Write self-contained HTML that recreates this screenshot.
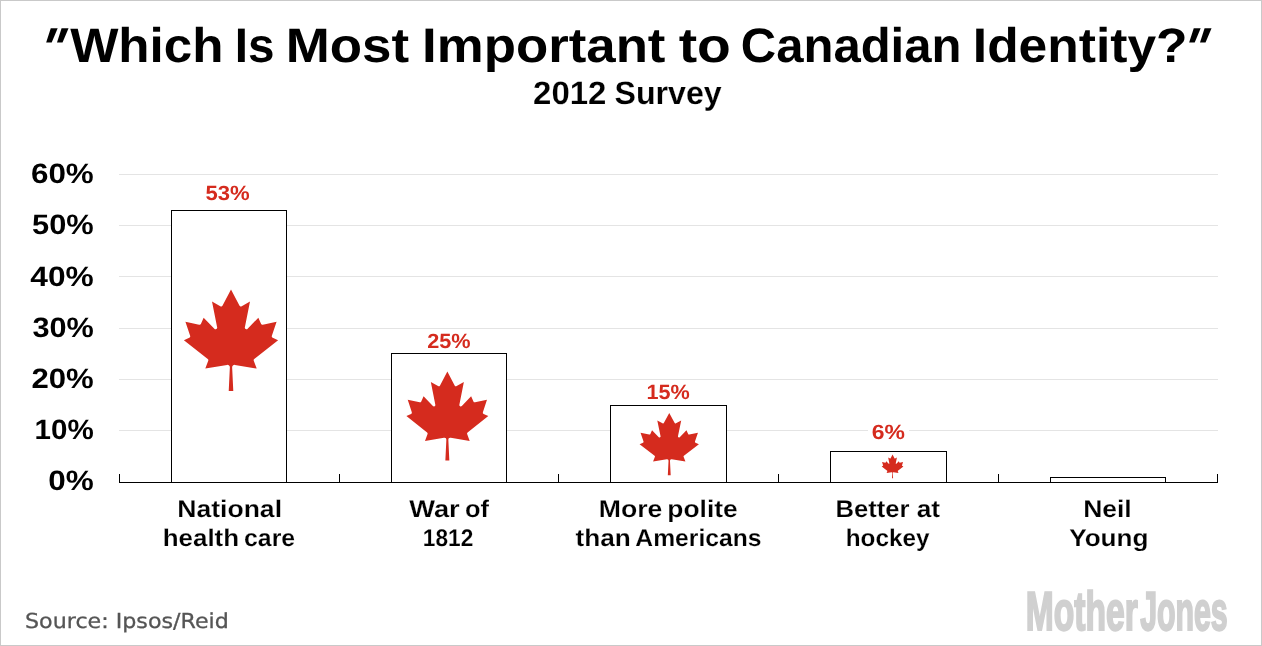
<!DOCTYPE html>
<html lang="en"><head><meta charset="utf-8"><title>Which Is Most Important to Canadian Identity?</title>
<style>
html,body{margin:0;padding:0;background:#fff;}
body{width:1262px;height:646px;overflow:hidden;}
svg{display:block;}
text{white-space:pre;}
</style></head><body>
<svg width="1262" height="646" viewBox="0 0 1262 646" text-rendering="geometricPrecision">
<defs><path id="leaf" d="m4890 4527-45-960a95 95 0 0 1 111-98l859 151-116-320a65 65 0 0 1 20-73l941-762-212-99a65 65 0 0 1-34-79l186-572-542 115a65 65 0 0 1-73-38l-105-247-423 454a65 65 0 0 1-111-57l204-1052-327 189a65 65 0 0 1-91-27l-332-652-332 652a65 65 0 0 1-91 27l-327-189 204 1052a65 65 0 0 1-111 57l-423-454-105 247a65 65 0 0 1-73 38l-542-115 186 572a65 65 0 0 1-34 79l-212 99 941 762a65 65 0 0 1 20 73l-116 320 859-151a95 95 0 0 1 111 98l-45 960z"/></defs>
<rect x="0" y="0" width="1262" height="646" fill="#fff"/>
<rect x="0.5" y="0.5" width="1261" height="645" fill="none" stroke="#c9c9c9" stroke-width="1"/>

<g shape-rendering="crispEdges" fill="#e4e4e4">
<rect x="119" y="174" width="1099" height="1"/>
<rect x="119" y="225" width="1099" height="1"/>
<rect x="119" y="276" width="1099" height="1"/>
<rect x="119" y="328" width="1099" height="1"/>
<rect x="119" y="379" width="1099" height="1"/>
<rect x="119" y="430" width="1099" height="1"/>
</g>
<g fill="#fff" stroke="#000" stroke-width="1">
<rect x="171.5" y="210.5" width="115.0" height="272.0"/>
<rect x="391.5" y="353.5" width="115.0" height="129.0"/>
<rect x="610.5" y="405.5" width="116.0" height="77.0"/>
<rect x="830.5" y="451.5" width="116.0" height="31.0"/>
<rect x="1050.5" y="477.5" width="115.0" height="5.0"/>
</g>
<g fill="#000">
<rect x="119" y="482" width="1099" height="1"/>
<rect x="119" y="474" width="1" height="8"/>
<rect x="339" y="474" width="1" height="8"/>
<rect x="558" y="474" width="1" height="8"/>
<rect x="778" y="474" width="1" height="8"/>
<rect x="998" y="474" width="1" height="8"/>
<rect x="1217" y="474" width="1" height="8"/>
</g>
<rect x="868" y="425" width="41" height="12" fill="#fff"/>
<use href="#leaf" fill="#d52b1e" transform="translate(183.900 289.500) scale(0.025323 0.024570) translate(-2940.0 -400.0)"/>
<use href="#leaf" fill="#d52b1e" transform="translate(406.400 371.400) scale(0.022016 0.021614) translate(-2940.0 -400.0)"/>
<use href="#leaf" fill="#d52b1e" transform="translate(639.600 413.000) scale(0.015941 0.015096) translate(-2940.0 -400.0)"/>
<use href="#leaf" fill="#d52b1e" transform="translate(881.700 454.600) scale(0.005833 0.005718) translate(-2940.0 -400.0)"/>
<text transform="translate(35.73 67.70) scale(0.8666 0.9650) skewX(-12)" font-size="60.00" font-weight="bold" fill="#000" font-family='"Liberation Sans", sans-serif' font-style="italic">"</text>
<text font-size="48.50" font-weight="bold" fill="#000" font-family='"Liberation Sans", sans-serif'><tspan x="70.15" y="62" textLength="153.26" lengthAdjust="spacingAndGlyphs">Which</tspan> <tspan x="234.68" y="62" textLength="39.69" lengthAdjust="spacingAndGlyphs">Is</tspan> <tspan x="285.76" y="62" textLength="123.34" lengthAdjust="spacingAndGlyphs">Most</tspan> <tspan x="422.08" y="62" textLength="243.39" lengthAdjust="spacingAndGlyphs">Important</tspan> <tspan x="678.67" y="62" textLength="52.11" lengthAdjust="spacingAndGlyphs">to</tspan> <tspan x="740.76" y="62" textLength="220.71" lengthAdjust="spacingAndGlyphs">Canadian</tspan> <tspan x="972.82" y="62" textLength="214.71" lengthAdjust="spacingAndGlyphs">Identity?</tspan></text>
<text transform="translate(1178.73 67.70) scale(0.8666 0.9650) skewX(-12)" font-size="60.00" font-weight="bold" fill="#000" font-family='"Liberation Sans", sans-serif' font-style="italic">"</text>
<text font-size="32.40" font-weight="bold" fill="#000" font-family='"Liberation Sans", sans-serif' stroke="#fff" stroke-width="0.15"><tspan x="533.13" y="104" textLength="73.32" lengthAdjust="spacingAndGlyphs">2012</tspan> <tspan x="614.56" y="104" textLength="107.20" lengthAdjust="spacingAndGlyphs">Survey</tspan></text>
<text transform="translate(30.94 183.00) scale(1.1212 1.0000)" font-size="28.00" font-weight="bold" fill="#000" font-family='"Liberation Sans", sans-serif'>60%</text>
<text transform="translate(32.09 234.00) scale(1.1008 1.0000)" font-size="28.00" font-weight="bold" fill="#000" font-family='"Liberation Sans", sans-serif'>50%</text>
<text transform="translate(30.34 286.00) scale(1.1318 1.0000)" font-size="28.00" font-weight="bold" fill="#000" font-family='"Liberation Sans", sans-serif'>40%</text>
<text transform="translate(32.43 337.00) scale(1.0944 1.0000)" font-size="28.00" font-weight="bold" fill="#000" font-family='"Liberation Sans", sans-serif'>30%</text>
<text transform="translate(31.46 388.00) scale(1.1114 1.0000)" font-size="28.00" font-weight="bold" fill="#000" font-family='"Liberation Sans", sans-serif'>20%</text>
<text transform="translate(34.61 439.00) scale(1.0553 1.0000)" font-size="28.00" font-weight="bold" fill="#000" font-family='"Liberation Sans", sans-serif'>10%</text>
<text transform="translate(48.21 490.00) scale(1.1239 1.0000)" font-size="28.00" font-weight="bold" fill="#000" font-family='"Liberation Sans", sans-serif'>0%</text>
<text transform="translate(205.49 200.00) scale(1.0722 1.0000)" font-size="20.60" font-weight="bold" fill="#d52b1e" font-family='"Liberation Sans", sans-serif'>53%</text>
<text transform="translate(427.25 348.00) scale(1.0524 1.0000)" font-size="20.60" font-weight="bold" fill="#d52b1e" font-family='"Liberation Sans", sans-serif'>25%</text>
<text transform="translate(646.41 399.00) scale(1.0505 1.0000)" font-size="20.60" font-weight="bold" fill="#d52b1e" font-family='"Liberation Sans", sans-serif'>15%</text>
<text transform="translate(871.85 439.00) scale(1.1141 1.0000)" font-size="20.60" font-weight="bold" fill="#d52b1e" font-family='"Liberation Sans", sans-serif'>6%</text>
<text font-size="24.00" font-weight="bold" fill="#000" font-family='"Liberation Sans", sans-serif' stroke="#fff" stroke-width="0.17"><tspan x="177.22" y="517" textLength="104.80" lengthAdjust="spacingAndGlyphs">National</tspan> <tspan x="162.69" y="546" textLength="76.44" lengthAdjust="spacingAndGlyphs">health</tspan> <tspan x="244.07" y="546" textLength="51.08" lengthAdjust="spacingAndGlyphs">care</tspan></text>
<text font-size="24.00" font-weight="bold" fill="#000" font-family='"Liberation Sans", sans-serif' stroke="#fff" stroke-width="0.17"><tspan x="409.25" y="517" textLength="50.47" lengthAdjust="spacingAndGlyphs">War</tspan> <tspan x="465.04" y="517" textLength="23.99" lengthAdjust="spacingAndGlyphs">of</tspan> <tspan x="422.85" y="546" textLength="50.42" lengthAdjust="spacingAndGlyphs">1812</tspan></text>
<text font-size="24.00" font-weight="bold" fill="#000" font-family='"Liberation Sans", sans-serif' stroke="#fff" stroke-width="0.17"><tspan x="598.79" y="517" textLength="63.64" lengthAdjust="spacingAndGlyphs">More</tspan> <tspan x="667.33" y="517" textLength="70.39" lengthAdjust="spacingAndGlyphs">polite</tspan> <tspan x="575.42" y="546" textLength="55.30" lengthAdjust="spacingAndGlyphs">than</tspan> <tspan x="635.37" y="546" textLength="126.08" lengthAdjust="spacingAndGlyphs">Americans</tspan></text>
<text font-size="24.00" font-weight="bold" fill="#000" font-family='"Liberation Sans", sans-serif' stroke="#fff" stroke-width="0.17"><tspan x="835.40" y="517" textLength="74.11" lengthAdjust="spacingAndGlyphs">Better</tspan> <tspan x="916.68" y="517" textLength="23.38" lengthAdjust="spacingAndGlyphs">at</tspan> <tspan x="845.68" y="546" textLength="83.80" lengthAdjust="spacingAndGlyphs">hockey</tspan></text>
<text font-size="24.00" font-weight="bold" fill="#000" font-family='"Liberation Sans", sans-serif' stroke="#fff" stroke-width="0.17"><tspan x="1083.15" y="517" textLength="48.52" lengthAdjust="spacingAndGlyphs">Neil</tspan> <tspan x="1069.17" y="546" textLength="79.31" lengthAdjust="spacingAndGlyphs">Young</tspan></text>
<text transform="translate(25.04 628.00) scale(1.0770 1.0000)" font-size="20.60" font-weight="normal" fill="#555555" font-family='"DejaVu Sans", "Liberation Sans", sans-serif' stroke="#555555" stroke-width="0.3">Source: Ipsos/Reid</text>
<text font-size="54.60" font-weight="bold" fill="#d0d0d0" font-family='"Liberation Sans", sans-serif' stroke="#d0d0d0" stroke-width="2.2"><tspan x="1025.73" y="630" textLength="112.00" lengthAdjust="spacingAndGlyphs">Mother</tspan> <tspan x="1140.13" y="630" textLength="87.61" lengthAdjust="spacingAndGlyphs">Jones</tspan></text>
</svg>
</body></html>
